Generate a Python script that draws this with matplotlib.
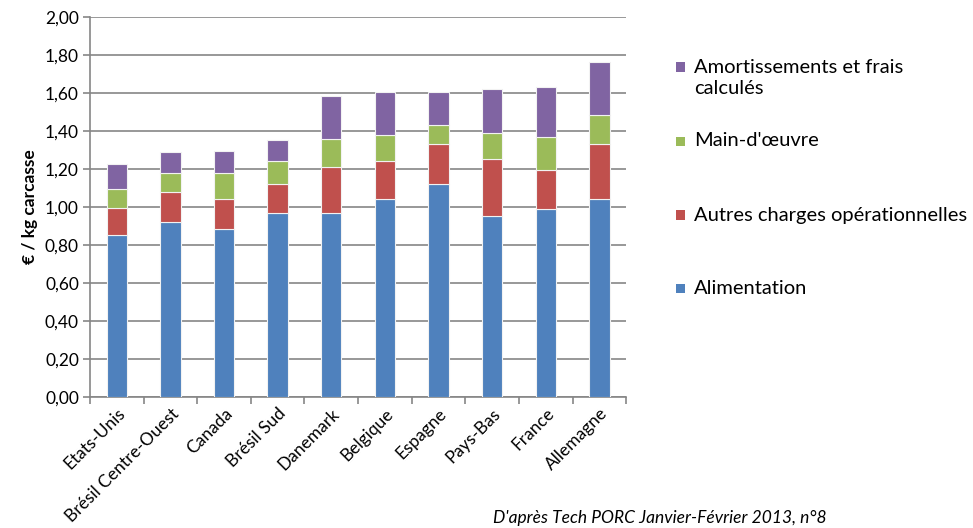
import numpy as np
import matplotlib.pyplot as plt
from matplotlib.patches import Rectangle

plt.rcParams['font.family'] = ['Lato', 'DejaVu Sans']

pays = ['Etats-Unis', 'Brésil Centre-Ouest', 'Canada', 'Brésil Sud', 'Danemark',
        'Belgique', 'Espagne', 'Pays-Bas', 'France', 'Allemagne']
alimentation = [0.855, 0.92, 0.885, 0.97, 0.97, 1.04, 1.12, 0.955, 0.99, 1.04]
autres_charges = [0.14, 0.16, 0.155, 0.15, 0.24, 0.20, 0.21, 0.295, 0.205, 0.29]
main_oeuvre = [0.10, 0.10, 0.14, 0.12, 0.145, 0.14, 0.10, 0.14, 0.175, 0.155]
amortissements = [0.13, 0.11, 0.115, 0.11, 0.23, 0.225, 0.175, 0.23, 0.26, 0.28]

series = [
    ('Alimentation', alimentation, '#4F81BD'),
    ('Autres charges opérationnelles', autres_charges, '#C0504D'),
    ("Main-d'œuvre", main_oeuvre, '#9BBB59'),
    ('Amortissements et frais\ncalculés', amortissements, '#8064A2'),
]

grey = '#868686'

fig = plt.figure(figsize=(9.73, 5.28), dpi=100)
ax = fig.add_axes([0.0925, 0.248, 0.551, 0.72])

x = np.arange(len(pays))
bottom = np.zeros(len(pays))
for nom, vals, col in series:
    ax.bar(x, vals, width=0.38, bottom=bottom, color=col, edgecolor='#F2F2F2',
           linewidth=0.8, zorder=3)
    bottom += np.array(vals)

ax.set_xlim(-0.5, len(pays) - 0.5)
ax.set_ylim(0, 2.0)
ax.set_yticks(np.arange(0, 2.01, 0.2))
ax.set_yticklabels([f'{v:.2f}'.replace('.', ',') for v in np.arange(0, 2.01, 0.2)],
                   fontsize=12.5)
ax.yaxis.grid(True, color=grey, linewidth=1.2, zorder=0)

ax.set_xticks(x)
ax.set_xticklabels(pays, rotation=45, ha='right', rotation_mode='anchor', fontsize=12.5)
ax.tick_params(axis='x', length=0, pad=6)
ax.set_xticks(np.arange(-0.5, len(pays), 1), minor=True)
ax.tick_params(axis='x', which='minor', length=5, color=grey, width=1.2)
ax.tick_params(axis='y', length=5, color=grey, width=1.2, pad=3)

for s in ['top', 'right']:
    ax.spines[s].set_visible(False)
for s in ['left', 'bottom']:
    ax.spines[s].set_color(grey)
    ax.spines[s].set_linewidth(1.2)

ax.set_ylabel('€ / kg carcasse', fontsize=12.5, fontweight='bold', labelpad=5)

# legende placee a la main (espacement irregulier comme dans Excel)
W, H = 973, 528
leg_y = [288, 215, 141, 67]
for (nom, vals, col), yy in zip(series, leg_y):
    fig.add_artist(Rectangle(((676) / W, 1 - (yy + 4.5) / H), 9 / W, 9 / H,
                             transform=fig.transFigure, facecolor=col, edgecolor='none'))
    if '\n' in nom:
        fig.text(694 / W, 1 - (yy - 8) / H, nom, fontsize=14.5, va='top', ha='left',
                 linespacing=1.3)
    else:
        fig.text(694 / W, 1 - yy / H, nom, fontsize=14.5, va='center', ha='left')

fig.text(0.507, 0.004, "D'après Tech PORC Janvier-Février 2013, n°8",
         fontsize=12.5, style='italic', va='bottom', ha='left')

plt.savefig('out.png', dpi=100)
